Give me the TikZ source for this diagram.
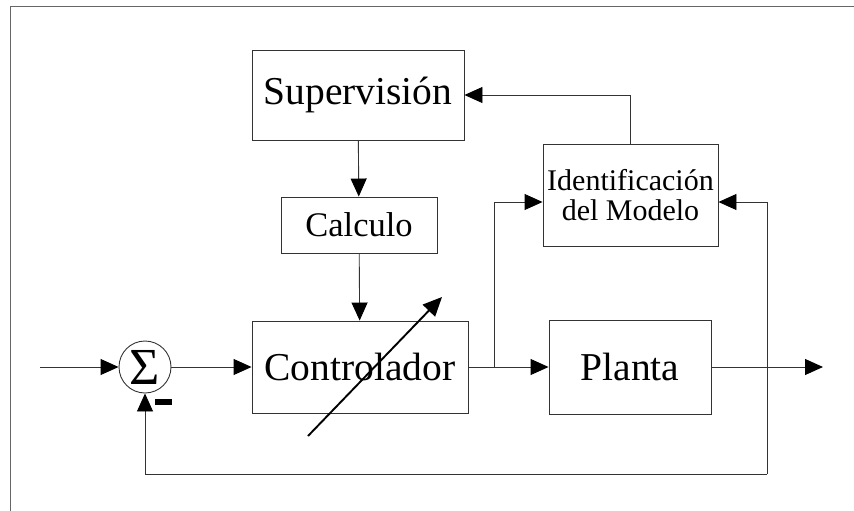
\documentclass[tikz,border=0pt]{standalone}
\usepackage{fontspec}
\setmainfont{Liberation Serif}
\usetikzlibrary{arrows.meta,positioning}

\begin{document}
\begin{tikzpicture}[x=1pt,y=-1pt,
      bloque/.style={draw=black!80, line width=0.9pt, align=center, inner sep=0pt},
      flecha/.style={-{Triangle[length=18pt,width=16pt,color=black]}, line width=0.9pt, draw=black!80},
      ajuste/.style={-{Triangle[length=19pt,width=17pt]}, line width=1.9pt}
    ]
      \useasboundingbox (0,0) rectangle (854,511);
      \draw[black!60, line width=1pt] (10,511) -- (10,7) -- (854,7);

      \node[bloque, minimum width=212pt, minimum height=90pt, font=\fontsize{39.5}{42}\selectfont] (sup) at (358,95) {Supervisión};
      \node[bloque, minimum width=156pt, minimum height=56pt, font=\fontsize{34.5}{36}\selectfont] (calc) at (359,225) {Calculo};
      \node[bloque, minimum width=216pt, minimum height=92pt, font=\fontsize{39.5}{42}\selectfont] (ctrl) at (360,367) {Controlador};
      \node[bloque, minimum width=162pt, minimum height=94pt, font=\fontsize{39.5}{42}\selectfont] (planta) at (630,367) {Planta};
      \node[bloque, minimum width=175pt, minimum height=102pt, font=\fontsize{30}{30}\selectfont] (ident) at (630.5,195) {Identificación\\del Modelo};
      \node[circle, draw=black!80, line width=0.9pt, minimum size=52pt, inner sep=0pt, font=\fontsize{52}{52}\selectfont] (suma) at (145,367) {Σ};
      \node[fill, minimum width=17pt, minimum height=6pt, inner sep=0pt] (menos) at (163,402) {};

      \coordinate (entrada) at (40,367);
      \coordinate (salida) at (823,367);
      \coordinate (rama) at (494,367);
      \coordinate (esq) at (767,474);

      \draw[flecha] (entrada) -- (suma);
      \draw[flecha] (suma) -- (ctrl);
      \draw[flecha] (ctrl) -- (planta);
      \draw[flecha] (planta) -- (salida);
      \draw[flecha] (sup) -- (calc);
      \draw[flecha] (calc) -- (ctrl);
      \draw[flecha] (rama) |- ([yshift=-7pt]ident.west);
      \draw[flecha] (ident.north) |- (sup.east);
      % realimentacion
      \draw[flecha] (esq) |- ([yshift=-7pt]ident.east);
      \draw[flecha] (esq) -| (suma.south);
      \draw[ajuste] ([shift={(-52,69)}]ctrl.center) -- ([shift={(82,-70)}]ctrl.center);
    \end{tikzpicture}
\end{document}
